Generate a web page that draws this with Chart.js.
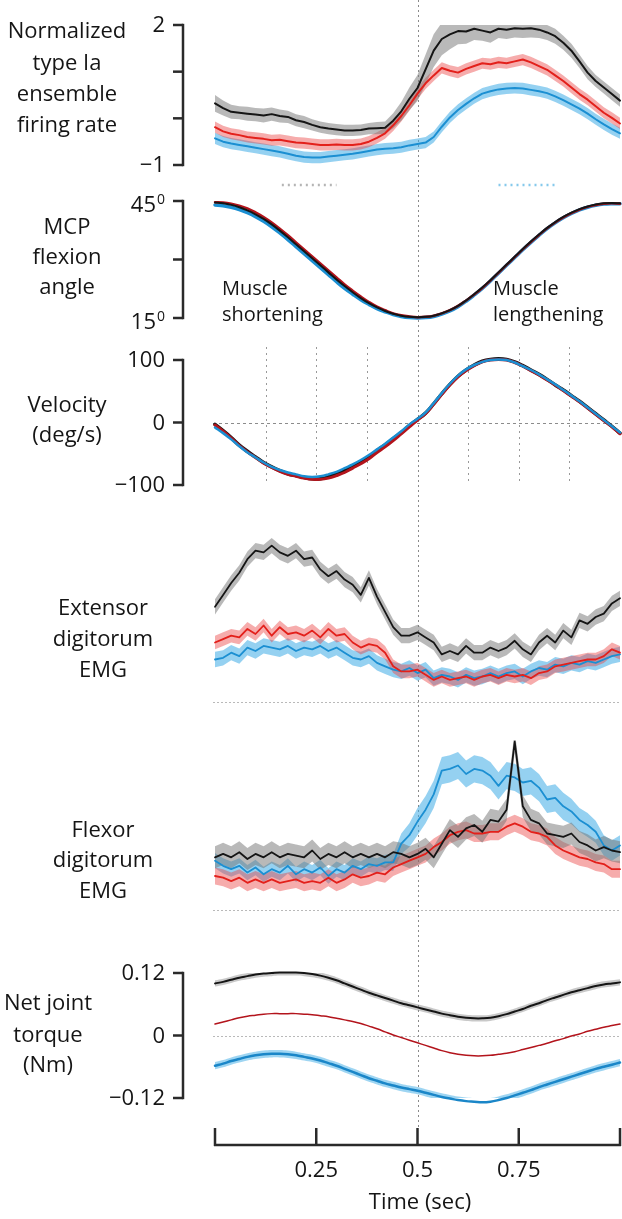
<!DOCTYPE html>
<html lang="en">
<head>
<meta charset="UTF-8">
<title>Ia ensemble firing, kinematics, EMG and torque</title>
<script src="https://cdn.jsdelivr.net/npm/chart.js"></script>
<style>
  body { margin: 0; background: #fff; }
  #wrap { position: relative; width: 622px; height: 1219px; overflow: hidden; }
  #wrap canvas { position: absolute; left: 0; }
</style>
</head>
<body>
<div id="wrap">
  <canvas id="c1"></canvas>
  <canvas id="c2"></canvas>
  <canvas id="c3"></canvas>
  <canvas id="c4"></canvas>
  <canvas id="c5"></canvas>
  <canvas id="c6"></canvas>
</div>
<script>
// sample times (sec), shared by every panel
const time = [0,0.02,0.04,0.06,0.08,0.1,0.12,0.14,0.16,0.18,0.2,0.22,0.24,0.26,0.28,0.3,0.32,0.34,0.36,0.38,0.4,0.42,0.44,0.46,0.48,0.5,0.52,0.54,0.56,0.58,0.6,0.62,0.64,0.66,0.68,0.7,0.72,0.74,0.76,0.78,0.8,0.82,0.84,0.86,0.88,0.9,0.92,0.94,0.96,0.98,1];

// normalized type Ia ensemble firing rate (mean, sem)
const rateBlack = [0.32,0.22,0.14,0.12,0.10,0.08,0.06,0.09,0.05,0.03,-0.04,-0.08,-0.14,-0.19,-0.22,-0.24,-0.26,-0.26,-0.25,-0.22,-0.21,-0.20,-0.05,0.15,0.42,0.65,1.05,1.45,1.70,1.80,1.87,1.86,1.92,1.88,1.84,1.92,1.90,1.93,1.92,1.93,1.90,1.84,1.76,1.62,1.45,1.22,0.98,0.80,0.66,0.52,0.38];
const rateBlackSem = [0.18,0.16,0.15,0.14,0.15,0.14,0.15,0.14,0.14,0.13,0.13,0.13,0.12,0.12,0.12,0.12,0.12,0.12,0.12,0.12,0.13,0.13,0.16,0.20,0.24,0.28,0.32,0.35,0.35,0.32,0.28,0.26,0.24,0.22,0.22,0.20,0.20,0.20,0.20,0.20,0.18,0.16,0.16,0.15,0.15,0.14,0.14,0.13,0.13,0.13,0.13];
const rateRed = [-0.19,-0.28,-0.33,-0.36,-0.40,-0.42,-0.44,-0.47,-0.46,-0.49,-0.52,-0.53,-0.55,-0.57,-0.57,-0.56,-0.57,-0.57,-0.55,-0.50,-0.42,-0.32,-0.15,0.05,0.28,0.53,0.75,0.92,1.08,1.02,0.98,1.06,1.12,1.18,1.16,1.20,1.18,1.22,1.26,1.20,1.12,1.04,0.92,0.80,0.66,0.52,0.40,0.26,0.12,0.01,-0.11];
const rateRedSem = 0.12;
const rateBlue = [-0.43,-0.50,-0.54,-0.57,-0.60,-0.63,-0.66,-0.69,-0.72,-0.76,-0.80,-0.83,-0.84,-0.84,-0.82,-0.80,-0.78,-0.76,-0.73,-0.70,-0.67,-0.65,-0.64,-0.62,-0.58,-0.55,-0.52,-0.40,-0.18,0.02,0.18,0.31,0.43,0.53,0.58,0.62,0.64,0.65,0.64,0.61,0.58,0.54,0.47,0.39,0.30,0.21,0.10,-0.02,-0.13,-0.23,-0.32];
const rateBlueSem = 0.12;
const sigGrey = [0.165, 0.30];
const sigBlue = [0.70, 0.845];

// MCP flexion angle (deg)
const angleBlack = [44.6,44.4,44.0,43.4,42.6,41.6,40.4,39.0,37.4,35.7,33.9,32.1,30.3,28.5,26.7,24.9,23.2,21.6,20.1,18.8,17.7,16.8,16.1,15.6,15.3,15.2,15.3,15.6,16.2,17.0,18.1,19.5,21.1,22.8,24.7,26.7,28.7,30.7,32.7,34.6,36.4,38.1,39.6,40.9,42.0,42.9,43.6,44.1,44.4,44.5,44.4];
const angleRed = [44.7,44.6,44.3,43.8,43.1,42.1,40.9,39.5,37.9,36.2,34.4,32.6,30.8,29.0,27.2,25.4,23.6,22.0,20.5,19.1,17.9,17.0,16.2,15.7,15.4,15.2,15.3,15.6,16.2,17.0,18.1,19.5,21.0,22.7,24.6,26.6,28.6,30.6,32.6,34.5,36.3,38.0,39.5,40.8,41.9,42.8,43.5,44.0,44.3,44.4,44.3];
const angleBlue = [44.0,43.8,43.4,42.8,42.0,41.0,39.8,38.4,36.8,35.1,33.3,31.5,29.7,27.9,26.1,24.3,22.6,21.1,19.7,18.5,17.4,16.6,15.9,15.4,15.1,15.0,15.1,15.4,16.0,16.8,17.9,19.3,20.9,22.6,24.5,26.5,28.5,30.5,32.5,34.4,36.2,37.9,39.4,40.7,41.8,42.7,43.4,43.9,44.2,44.3,44.3];

// velocity (deg/s)
const velBlack = [-3,-13,-24,-36,-46,-55,-64,-71,-77,-82,-85,-88,-90,-90,-87,-82,-77,-70,-63,-55,-45,-36,-26,-16,-5,5,15,30,46,61,74,84,92,98,101,102,101,97,91,84,77,69,60,52,43,34,24,14,4,-6,-17];
const velRed = [-4,-14,-25,-37,-47,-56,-65,-72,-78,-83,-86,-89,-91,-91,-89,-85,-80,-73,-66,-58,-48,-39,-29,-18,-7,4,14,29,45,60,73,83,91,97,100,101,100,96,90,83,76,68,60,51,42,33,23,13,3,-7,-18];
const velBlue = [-8,-17,-27,-38,-48,-56,-64,-71,-76,-80,-83,-86,-87,-86,-83,-79,-73,-67,-60,-52,-43,-34,-24,-14,-3,6,16,31,47,62,75,85,92,97,100,101,100,96,90,84,77,69,61,52,43,34,24,14,4,-6,-16];

// extensor digitorum EMG (a.u.)
const extBlack = [5.6,6.3,7.0,7.6,8.4,8.9,8.8,9.2,8.8,8.6,8.9,8.4,8.5,7.8,7.4,7.7,7.2,6.9,6.3,7.3,6.2,5.3,4.4,3.9,3.9,4.1,3.8,3.5,2.8,3.0,2.8,3.3,2.9,2.9,3.2,3.0,3.2,3.6,3.1,2.8,3.5,3.9,3.5,4.2,3.8,4.8,4.6,5.0,5.2,5.8,6.1];
const extRed = [3.5,3.7,3.9,3.8,4.3,4.0,4.5,3.9,4.4,4.0,4.1,3.9,4.2,3.8,4.3,3.9,4.0,3.5,3.2,3.4,3.3,2.9,2.1,1.8,1.8,1.9,1.6,1.3,1.5,1.3,1.4,1.5,1.3,1.5,1.6,1.4,1.6,1.5,1.6,1.4,1.7,1.8,2.1,2.2,2.3,2.4,2.5,2.5,2.7,3.1,2.9];
const extBlue = [2.5,2.6,2.9,2.7,3.2,3.0,3.3,3.2,3.1,3.3,3.0,3.2,3.1,3.3,3.0,3.2,2.9,2.6,2.5,2.7,2.3,2.1,1.9,1.8,2.0,1.7,1.9,1.4,1.6,1.5,1.3,1.6,1.4,1.5,1.7,1.5,1.7,1.8,1.5,1.8,2.0,1.9,2.2,2.1,2.3,2.2,2.4,2.3,2.5,2.7,2.8];
const extSem = [0.45, 0.4, 0.45];

// flexor digitorum EMG (a.u.)
const flexBlack = [3.1,3.3,3.1,3.4,3.0,3.3,3.1,3.4,3.1,3.3,3.2,3.1,3.5,3.0,3.3,3.1,3.4,3.1,3.3,3.1,3.3,3.1,3.4,3.3,3.1,3.3,3.6,3.1,3.9,4.7,4.3,4.8,5.0,4.6,5.3,5.2,5.9,9.9,6.1,5.3,5.1,4.5,4.4,4.3,4.5,4.0,3.8,3.5,3.7,3.5,3.4];
const flexRed = [2.0,1.9,1.7,1.9,1.6,1.8,1.6,1.8,1.6,1.7,1.8,1.6,1.7,1.6,1.9,1.6,1.8,2.1,1.9,2.0,2.2,2.1,2.5,2.7,2.9,3.1,3.3,3.7,4.0,4.4,4.6,4.7,4.5,4.5,4.6,4.6,4.9,5.1,4.9,4.6,4.5,4.3,3.8,3.5,3.3,3.1,3.0,2.8,2.7,2.4,2.4];
const flexBlue = [2.9,2.6,2.4,2.6,2.2,2.5,2.1,2.4,2.2,2.6,2.1,2.4,2.2,2.5,2.0,2.4,2.2,2.6,2.4,2.7,2.6,2.8,2.8,3.9,4.4,5.2,5.9,6.8,8.2,8.3,8.5,8.0,8.3,8.2,7.9,7.3,7.9,7.8,7.5,7.6,7.2,6.5,6.6,6.1,5.8,5.3,5.0,4.6,3.8,3.5,3.8];
const flexBlackSem = 0.65;
const flexRedSem = 0.5;
const flexBlueSem = [0.45,0.45,0.45,0.45,0.45,0.45,0.45,0.45,0.45,0.45,0.45,0.45,0.45,0.45,0.45,0.45,0.45,0.45,0.45,0.45,0.45,0.45,0.5,0.6,0.7,0.8,0.8,0.8,0.8,0.8,0.8,0.8,0.8,0.8,0.8,0.8,0.8,0.8,0.8,0.8,0.8,0.8,0.8,0.8,0.75,0.7,0.7,0.65,0.6,0.6,0.6];

// net joint torque (Nm)
const torqueBlack = [0.100,0.103,0.107,0.111,0.114,0.117,0.119,0.120,0.121,0.121,0.121,0.120,0.118,0.115,0.111,0.106,0.100,0.094,0.088,0.082,0.077,0.072,0.067,0.062,0.058,0.054,0.050,0.046,0.042,0.039,0.036,0.034,0.033,0.033,0.034,0.037,0.041,0.046,0.051,0.057,0.062,0.068,0.073,0.078,0.083,0.087,0.091,0.095,0.098,0.100,0.102];
const torqueRed = [0.022,0.026,0.030,0.034,0.037,0.039,0.041,0.042,0.042,0.042,0.042,0.041,0.040,0.038,0.036,0.033,0.030,0.027,0.023,0.018,0.013,0.007,0.001,-0.004,-0.009,-0.014,-0.019,-0.024,-0.029,-0.033,-0.036,-0.038,-0.039,-0.039,-0.038,-0.036,-0.034,-0.031,-0.027,-0.023,-0.019,-0.015,-0.010,-0.006,-0.001,0.003,0.008,0.012,0.016,0.019,0.022];
const torqueBlue = [-0.058,-0.054,-0.049,-0.045,-0.041,-0.038,-0.036,-0.035,-0.035,-0.036,-0.038,-0.041,-0.044,-0.048,-0.053,-0.058,-0.064,-0.070,-0.076,-0.082,-0.087,-0.092,-0.096,-0.100,-0.103,-0.106,-0.110,-0.114,-0.118,-0.121,-0.124,-0.126,-0.127,-0.128,-0.127,-0.124,-0.120,-0.115,-0.110,-0.105,-0.099,-0.094,-0.089,-0.084,-0.079,-0.074,-0.069,-0.064,-0.060,-0.056,-0.052];
const torqueBlackSem = 0.006;
const torqueBlueSem = 0.007;

// axis ticks and labels
const rateTicks = [2, 1, 0, -1];
const rateTickLabels = ['2', '', '', '\u22121'];
const angleTicks = [45, 30, 15];
const angleTickLabels = ['45\u2070', '', '15\u2070'];
const velTicks = [100, 0, -100];
const velTickLabels = ['100', '0', '\u2212100'];
const torqueTicks = [0.12, 0, -0.12];
const torqueTickLabels = ['0.12', '0', '\u22120.12'];
const timeTicks = [0, 0.25, 0.5, 0.75, 1];
const timeTickLabels = ['', '0.25', '0.5', '0.75', ''];
const velGrid = [0.125, 0.25, 0.375, 0.625, 0.75, 0.875];

const FAMILY = "'Open Sans', 'Noto Sans', sans-serif";
const INK = '#151515';
const C = {
  black: '#151515', blackBand: 'rgba(115,115,115,0.5)',
  red: '#e3201b', redBand: 'rgba(236,72,72,0.45)',
  blue: '#1b8fd2', blueBand: 'rgba(62,172,230,0.55)',
  darkRed: '#b3141c'
};

function pts(vals) { return time.map((t, i) => ({ x: t, y: vals[i] })); }
function offset(vals, sem, sign) {
  return vals.map((v, i) => v + sign * (Array.isArray(sem) ? sem[i] : sem));
}
function trace(vals, color, width, order, tension) {
  return { data: pts(vals), borderColor: color, borderWidth: width, pointRadius: 0,
    tension: tension || 0, fill: false, order: order, clip: false,
    borderJoinStyle: 'round', borderCapStyle: 'round' };
}
function band(vals, sem, color, tension) {
  const edge = { borderColor: 'rgba(0,0,0,0)', borderWidth: 0, pointRadius: 0,
    tension: tension || 0, order: 10, clip: false };
  return [
    Object.assign({ data: pts(offset(vals, sem, 1)), fill: false }, edge),
    Object.assign({ data: pts(offset(vals, sem, -1)), fill: '-1', backgroundColor: color }, edge)
  ];
}
function marks(span, level, color) {
  return { data: span.map(t => ({ x: t, y: level })), borderColor: color, borderWidth: 2.5,
    borderDash: [2, 4], pointRadius: 0, fill: false, order: 5, clip: false };
}

function seg(ctx, x1, y1, x2, y2) {
  ctx.beginPath(); ctx.moveTo(x1, y1); ctx.lineTo(x2, y2); ctx.stroke();
}
function tickLabel(ctx, text, xr, y) {
  ctx.textAlign = 'right'; ctx.textBaseline = 'middle';
  if (text.endsWith('\u2070')) {
    // degree-like superscript zero, as printed in the figure
    ctx.font = '14px ' + FAMILY;
    const w = ctx.measureText('0').width;
    ctx.fillText('0', xr, y - 1);
    ctx.font = '22px ' + FAMILY;
    ctx.fillText(text.slice(0, -1), xr - w - 1, y + 5);
  } else {
    ctx.font = '22px ' + FAMILY;
    ctx.fillText(text, xr, y + 1);
  }
}

function framePlugin(cfg) {
  return {
    id: 'frame',
    beforeDatasetsDraw(chart) {
      const { ctx, chartArea: a, scales: { x, y } } = chart;
      ctx.save();
      ctx.lineWidth = 1;
      if (cfg.zero !== undefined) {
        ctx.strokeStyle = cfg.zeroColor || '#b9b9b9';
        ctx.setLineDash(cfg.zeroDash || [2, 2]);
        const py = Math.round(y.getPixelForValue(cfg.zero)) + 0.5;
        seg(ctx, a.left - 2, py, a.right, py);
      }
      if (cfg.grid) {
        ctx.strokeStyle = '#999'; ctx.setLineDash([2, 4]);
        cfg.grid.forEach(t => {
          const px = Math.round(x.getPixelForValue(t)) + 0.5;
          seg(ctx, px, cfg.gridTop, px, y.getPixelForValue(cfg.gridBottom));
        });
      }
      ctx.strokeStyle = '#8a8a8a'; ctx.setLineDash([2, 3]);
      const xm = Math.round(x.getPixelForValue(0.5)) + 0.5;
      seg(ctx, xm, 0, xm, cfg.midEnd || chart.height);
      ctx.restore();
    },
    afterDraw(chart) {
      const { ctx, scales: { x, y } } = chart;
      ctx.save();
      ctx.fillStyle = INK;
      ctx.strokeStyle = '#2a2a2a';
      if (cfg.ticks) {
        const ax = 183;
        const top = y.getPixelForValue(cfg.ticks[0]);
        const bot = y.getPixelForValue(cfg.ticks[cfg.ticks.length - 1]);
        ctx.lineWidth = 2.5;
        seg(ctx, ax, top - 1.2, ax, bot + 1.2);
        cfg.ticks.forEach((v, i) => {
          const py = y.getPixelForValue(v);
          seg(ctx, ax - 10, py, ax, py);
          if (cfg.tickLabels[i]) tickLabel(ctx, cfg.tickLabels[i], 165, py);
        });
      }
      if (cfg.timeAxis) {
        const yb = cfg.timeAxis;
        ctx.lineWidth = 2.5;
        seg(ctx, x.getPixelForValue(0) - 1, yb, x.getPixelForValue(1) + 1, yb);
        ctx.font = '22px ' + FAMILY; ctx.textAlign = 'center'; ctx.textBaseline = 'middle';
        timeTicks.forEach((t, i) => {
          const px = x.getPixelForValue(t);
          seg(ctx, px, yb - 17, px, yb + 1);
          if (timeTickLabels[i]) ctx.fillText(timeTickLabels[i], px, yb + 26);
        });
        ctx.fillText('Time (sec)', 420, yb + 58);
      }
      ctx.font = '22px ' + FAMILY; ctx.textAlign = 'center'; ctx.textBaseline = 'alphabetic';
      cfg.title.lines.forEach((s, i) => ctx.fillText(s, cfg.title.x, cfg.title.base[i]));
      if (cfg.notes) {
        ctx.font = '20px ' + FAMILY; ctx.textAlign = 'left';
        cfg.notes.forEach(n => ctx.fillText(n.text, n.x, n.y));
      }
      ctx.restore();
    }
  };
}

function makePanel(cfg) {
  const canvas = document.getElementById(cfg.id);
  canvas.width = 622;
  canvas.height = cfg.height;
  canvas.style.top = cfg.top + 'px';
  return new Chart(canvas, {
    type: 'line',
    data: { datasets: cfg.datasets },
    options: {
      responsive: false, animation: false, events: [],
      layout: { padding: { left: 215, right: 2, top: cfg.pad[0], bottom: cfg.pad[1] } },
      scales: {
        x: { type: 'linear', min: 0, max: 1, display: false },
        y: { type: 'linear', min: cfg.range[0], max: cfg.range[1], display: false }
      },
      plugins: { legend: { display: false }, tooltip: { enabled: false } }
    },
    plugins: [framePlugin(cfg)]
  });
}

makePanel({
  id: 'c1', top: 0, height: 190, pad: [25, 25], range: [-1, 2],
  ticks: rateTicks, tickLabels: rateTickLabels,
  title: { x: 67, base: [38, 70, 101, 132], lines: ['Normalized', 'type Ia', 'ensemble', 'firing rate'] },
  datasets: [
    trace(rateBlack, C.black, 2, 0),
    trace(rateRed, C.red, 2, 1),
    trace(rateBlue, C.blue, 2, 2),
    marks(sigGrey, -1.43, '#b5b5b5'),
    marks(sigBlue, -1.43, '#86c9ec'),
    ...band(rateBlack, rateBlackSem, C.blackBand),
    ...band(rateRed, rateRedSem, C.redBand),
    ...band(rateBlue, rateBlueSem, C.blueBand)
  ]
});

makePanel({
  id: 'c2', top: 190, height: 145, pad: [11, 17], range: [15, 45],
  ticks: angleTicks, tickLabels: angleTickLabels,
  title: { x: 67, base: [44, 74, 104], lines: ['MCP', 'flexion', 'angle'] },
  notes: [
    { text: 'Muscle', x: 222, y: 105 }, { text: 'shortening', x: 222, y: 131 },
    { text: 'Muscle', x: 493, y: 105 }, { text: 'lengthening', x: 493, y: 131 }
  ],
  datasets: [
    trace(angleBlack, C.black, 2, 0, 0.4),
    trace(angleRed, C.darkRed, 2.5, 1, 0.4),
    trace(angleBlue, C.blue, 3.5, 2, 0.4)
  ]
});

makePanel({
  id: 'c3', top: 335, height: 165, pad: [25, 15], range: [-100, 100],
  ticks: velTicks, tickLabels: velTickLabels, zero: 0, zeroColor: '#8c8c8c', zeroDash: [3, 3],
  grid: velGrid, gridTop: 12, gridBottom: -100,
  title: { x: 67, base: [77, 107], lines: ['Velocity', '(deg/s)'] },
  datasets: [
    trace(velBlue, C.blue, 2.5, 0, 0.4),
    trace(velRed, C.darkRed, 3, 1, 0.4),
    trace(velBlack, C.black, 3.5, 2, 0.4)
  ]
});

makePanel({
  id: 'c4', top: 500, height: 220, pad: [32, 18], range: [0, 10], zero: 0,
  title: { x: 103, base: [115, 146, 177], lines: ['Extensor', 'digitorum', 'EMG'] },
  datasets: [
    trace(extBlack, C.black, 1.8, 0),
    trace(extRed, C.red, 1.8, 1),
    trace(extBlue, C.blue, 1.8, 2),
    ...band(extBlack, extSem[0], C.blackBand),
    ...band(extRed, extSem[1], C.redBand),
    ...band(extBlue, extSem[2], C.blueBand)
  ]
});

makePanel({
  id: 'c5', top: 720, height: 205, pad: [20, 15], range: [0, 10], zero: 0,
  title: { x: 103, base: [117, 147, 178], lines: ['Flexor', 'digitorum', 'EMG'] },
  datasets: [
    trace(flexBlack, C.black, 1.8, 0),
    trace(flexRed, C.red, 1.8, 1),
    trace(flexBlue, C.blue, 1.8, 2),
    ...band(flexBlack, flexBlackSem, C.blackBand),
    ...band(flexRed, flexRedSem, C.redBand),
    ...band(flexBlue, flexBlueSem, C.blueBand)
  ]
});

makePanel({
  id: 'c6', top: 925, height: 294, pad: [48, 121], range: [-0.12, 0.12],
  ticks: torqueTicks, tickLabels: torqueTickLabels, zero: 0, midEnd: 202, timeAxis: 220,
  title: { x: 48, base: [85, 117, 147], lines: ['Net joint', 'torque', '(Nm)'] },
  datasets: [
    trace(torqueBlack, C.black, 2, 0, 0.4),
    trace(torqueRed, C.darkRed, 1.5, 1, 0.4),
    trace(torqueBlue, '#1a86c8', 2.5, 2, 0.4),
    ...band(torqueBlack, torqueBlackSem, 'rgba(120,120,120,0.4)', 0.4),
    ...band(torqueBlue, torqueBlueSem, 'rgba(62,172,230,0.5)', 0.4)
  ]
});
</script>
</body>
</html>
